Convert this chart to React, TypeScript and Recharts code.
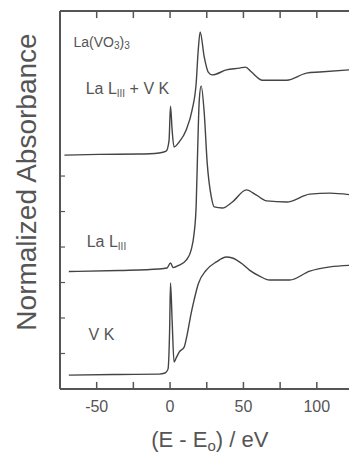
import React from 'react';
import {
  LineChart, Line, XAxis, YAxis, Label, ReferenceDot, ReferenceLine,
} from 'recharts';

// energy offsets (eV) and normalized absorbance
const combinedX = [-72, -48.6, -21.2, -7.5, -2.7, -0.7, 0.3, 1.4, 2.7, 6.2, 11, 15, 17.8, 19.2, 20.5, 23.3, 26, 28.8, 38.4, 47.3, 51.4, 55.5, 63, 79.5, 93, 102, 125];
const combinedY = [6.59, 6.61, 6.62, 6.65, 6.7, 7.0, 7.97, 7.3, 6.82, 6.96, 7.3, 7.86, 8.62, 9.55, 10.06, 9.35, 8.93, 8.85, 8.99, 9.04, 9.07, 8.93, 8.7, 8.7, 8.9, 8.93, 9.0];

const laX = [-69, -35, -7.5, -2.1, 0.3, 2.1, 6.2, 11, 14.4, 16.4, 17.8, 18.8, 19.9, 21.2, 23.3, 25.3, 28.1, 30.1, 35.6, 42.5, 52, 58.9, 65.8, 79.5, 95.2, 109, 125];
const laY = [3.31, 3.34, 3.38, 3.41, 3.55, 3.42, 3.49, 3.63, 3.92, 4.39, 5.18, 6.73, 8.14, 8.54, 7.77, 6.37, 5.41, 5.13, 5.1, 5.27, 5.61, 5.46, 5.3, 5.27, 5.49, 5.52, 5.46];

const vkX = [-69, -35, -7.5, -3.4, -1.4, -0.3, 0.3, 1.4, 2.7, 4.1, 6.2, 9.6, 11.6, 14.4, 16.4, 19.2, 24.7, 31.5, 38.4, 42.5, 49.3, 54.1, 61, 67.8, 81.5, 95.2, 109, 125];
const vkY = [0.39, 0.41, 0.42, 0.45, 0.56, 1.66, 2.99, 1.94, 0.76, 0.87, 1.04, 1.18, 1.52, 2.14, 2.51, 2.96, 3.35, 3.58, 3.72, 3.69, 3.52, 3.35, 3.18, 3.07, 3.07, 3.32, 3.44, 3.49];

const xDomain = [-75, 125];
const yDomain = [0, 10.65];
const xTicks = [-50, -25, 0, 25, 50, 75, 100];
const xLabelled = [-50, 0, 50, 100];
const yTicks = [1, 2, 3, 4, 5, 6];
const tickLen = 0.2; // inward tick length, in y units

const toPoints = (xs: number[], ys: number[]) => xs.map((x, i) => ({ x, y: ys[i] }));

const INK = '#555';
const LINE = '#444';
const font = 'Liberation Sans, Arial, sans-serif';

const BottomTick = (p: any) =>
  xLabelled.includes(p.payload.value) ? (
    <text x={p.x} y={p.y + 23} textAnchor="middle" fontSize={16} fill={INK} fontFamily={font}>
      {p.payload.value}
    </text>
  ) : <g />;

const LeftTick = (p: any) => (
  <line x1={p.x} x2={p.x + 5} y1={p.y} y2={p.y} stroke={INK} strokeWidth={1.2} />
);

const note = (parts: React.ReactNode) => (p: any) => (
  <text x={p.cx} y={p.cy} fontSize={16} fill={INK} fontFamily={font}>{parts}</text>
);

export default function App() {
  return (
    <div style={{ position: 'absolute', left: 0, top: 0, width: 349, height: 455, overflow: 'hidden', background: '#fff' }}>
      <LineChart width={360} height={455} margin={{ top: 11, right: 6.5, bottom: 0, left: 0 }}>
        <XAxis
          dataKey="x" type="number" domain={xDomain} allowDataOverflow
          ticks={xTicks} interval={0} tickSize={0} tickMargin={0} tickLine={false}
          tick={<BottomTick />} height={66} axisLine={false}
        >
          <Label
            content={(p: any) => (
              <text x={p.viewBox.x + p.viewBox.width / 2 + 3} y={p.viewBox.y + 58}
                textAnchor="middle" fontSize={22} fill={INK} fontFamily={font}>
                (E - E<tspan fontSize={15} dy={4}>o</tspan><tspan dy={-4}>) / eV</tspan>
              </text>
            )}
          />
        </XAxis>
        <YAxis
          type="number" domain={yDomain} allowDataOverflow width={60}
          ticks={yTicks} interval={0} tickSize={0} tickMargin={0} tickLine={false}
          tick={<LeftTick />} axisLine={false}
        >
          <Label
            content={(p: any) => (
              <text transform={`translate(36, ${p.viewBox.y + p.viewBox.height / 2 - 18}) rotate(-90)`}
                textAnchor="middle" fontSize={28} fill={INK} fontFamily={font}>
                Normalized Absorbance
              </text>
            )}
          />
        </YAxis>

        {/* frame */}
        <ReferenceLine x={xDomain[0]} stroke={INK} strokeWidth={2} />
        <ReferenceLine y={yDomain[0]} stroke={INK} strokeWidth={2} />
        <ReferenceLine y={yDomain[1]} stroke={INK} strokeWidth={2} />
        {xTicks.map((v) => (
          <ReferenceLine key={`b${v}`} ifOverflow="visible"
            segment={[{ x: v, y: yDomain[0] }, { x: v, y: yDomain[0] + tickLen }]}
            stroke={INK} strokeWidth={1.5} />
        ))}
        {xTicks.map((v) => (
          <ReferenceLine key={`t${v}`} ifOverflow="visible"
            segment={[{ x: v, y: yDomain[1] }, { x: v, y: yDomain[1] - tickLen }]}
            stroke={INK} strokeWidth={1.5} />
        ))}

        <Line data={toPoints(combinedX, combinedY)} dataKey="y" type="monotone"
          stroke={LINE} strokeWidth={1.4} dot={false} isAnimationActive={false} />
        <Line data={toPoints(laX, laY)} dataKey="y" type="monotone"
          stroke={LINE} strokeWidth={1.4} dot={false} isAnimationActive={false} />
        <Line data={toPoints(vkX, vkY)} dataKey="y" type="monotone"
          stroke={LINE} strokeWidth={1.4} dot={false} isAnimationActive={false} />

        <ReferenceDot x={-65.8} y={9.63} r={0}
          shape={(p: any) => (
            <text x={p.cx} y={p.cy} fontSize={14} fill={INK} fontFamily={font}>
              La(VO<tspan fontSize={10} dy={2}>3</tspan><tspan dy={-2}>)</tspan><tspan fontSize={10} dy={2}>3</tspan>
            </text>
          )} />
        <ReferenceDot x={-57.5} y={8.31} r={0}
          shape={note(<>La L<tspan fontSize={10} dy={3}>III</tspan><tspan dy={-3}> + V K</tspan></>)} />
        <ReferenceDot x={-56.8} y={4.0} r={0}
          shape={note(<>La L<tspan fontSize={10} dy={3}>III</tspan></>)} />
        <ReferenceDot x={-55.5} y={1.38} r={0}
          shape={note(<>V K</>)} />
      </LineChart>
    </div>
  );
}
